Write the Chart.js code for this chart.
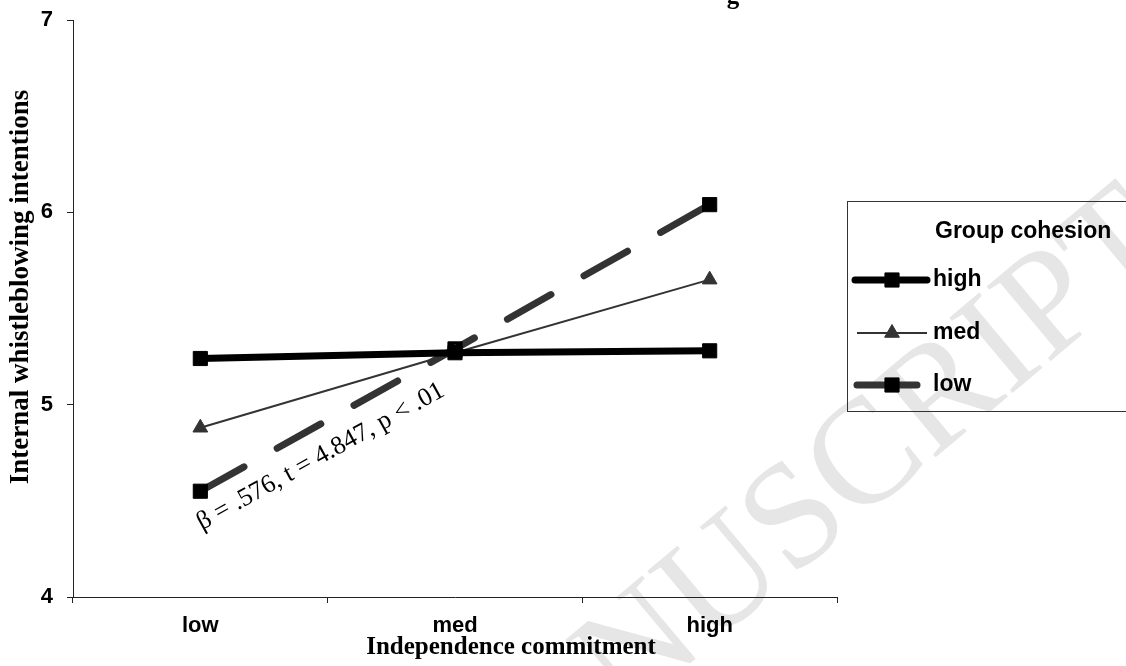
<!DOCTYPE html>
<html><head><meta charset="utf-8">
<script src="https://cdn.jsdelivr.net/npm/chart.js@4/dist/chart.umd.min.js"></script>
<style>html,body{margin:0;padding:0;background:#fff}#wrap{width:1126px;height:666px}</style>
</head><body><div id="wrap"><canvas id="c" width="1126" height="666"></canvas></div>
<script>
// ---- data ----
const categories = ['low', 'med', 'high'];
const seriesNames = ['high', 'med', 'low'];
const highValues = [5.24, 5.27, 5.28];
const medValues = [4.88, 5.27, 5.65];
const lowValues = [4.55, 5.29, 6.04];
const yTicks = [4, 5, 6, 7];
const xTitle = 'Independence commitment';
const yTitle = 'Internal whistleblowing intentions';
const legendTitle = 'Group cohesion';
const annotationText = 'β = .576, t = 4.847, p < .01';
const watermarkA = 'ACCEPTED MA';
const watermarkB = 'NUSCRIPT';

const SANS = '"Liberation Sans", Arial, sans-serif';
const SERIF = '"Liberation Serif", "Times New Roman", serif';

const datasets = [
  { label: seriesNames[0], data: highValues, borderColor: '#000', backgroundColor: '#000',
    borderWidth: 7, pointStyle: 'rect', pointRadius: 10, pointBackgroundColor: '#000', pointBorderColor: '#000',
    pointBorderWidth: 1, borderCapStyle: 'round', tension: 0, legendLine: [855, 927] },
  { label: seriesNames[1], data: medValues, borderColor: '#333', backgroundColor: '#333',
    borderWidth: 2, pointStyle: 'triangle', pointRadius: 8.5, pointBackgroundColor: '#333', pointBorderColor: '#333',
    pointBorderWidth: 1, tension: 0, legendLine: [857, 927] },
  { label: seriesNames[2], data: lowValues, borderColor: '#333', backgroundColor: '#333',
    borderWidth: 7, borderDash: [50, 38], borderCapStyle: 'round', pointStyle: 'rect', pointRadius: 10,
    pointBackgroundColor: '#000', pointBorderColor: '#000', pointBorderWidth: 1, tension: 0, legendLine: [857, 917] }
];

const extras = {
  id: 'extras',
  beforeDraw(chart) {
    const ctx = chart.ctx;
    ctx.save();
    ctx.fillStyle = '#e6e6e6';
    ctx.font = '150px ' + SERIF;
    ctx.translate(625, 718);
    ctx.rotate(-40 * Math.PI / 180);
    ctx.textBaseline = 'alphabetic';
    ctx.textAlign = 'right';
    ctx.fillText(watermarkA, 0, 0);
    ctx.textAlign = 'left';
    ctx.fillText(watermarkB, 0, 0);
    ctx.restore();
  },
  afterDraw(chart) {
    const ctx = chart.ctx;
    const xs = chart.scales.x, ys = chart.scales.y;
    ctx.save();
    // clipped title fragment at the top
    ctx.fillStyle = '#000';
    ctx.font = 'bold 25px ' + SERIF;
    ctx.textAlign = 'center';
    ctx.textBaseline = 'alphabetic';
    ctx.fillText('g', 733, 4);

    // axis titles
    ctx.font = 'bold 25px ' + SERIF;
    ctx.textAlign = 'center';
    ctx.textBaseline = 'middle';
    ctx.fillText(xTitle, 511, 648);
    ctx.save();
    ctx.translate(21, 287);
    ctx.rotate(-Math.PI / 2);
    ctx.font = 'bold 27px ' + SERIF;
    ctx.fillText(yTitle, 0, 0);
    ctx.restore();

    // annotation along the low-cohesion slope
    const ax = (xs.getPixelForValue(0) + xs.getPixelForValue(1)) / 2 - 7;
    const ay = ys.getPixelForValue(4.73);
    ctx.save();
    ctx.translate(ax, ay);
    ctx.rotate(-29 * Math.PI / 180);
    ctx.font = '26px ' + SERIF;
    ctx.textAlign = 'center';
    ctx.textBaseline = 'middle';
    ctx.fillText(annotationText, 0, 0);
    ctx.restore();

    // legend
    ctx.strokeStyle = '#333';
    ctx.lineWidth = 1;
    ctx.strokeRect(847.5, 201.5, 300, 210);
    ctx.fillStyle = '#000';
    ctx.font = 'bold 23px ' + SANS;
    ctx.textAlign = 'left';
    ctx.textBaseline = 'middle';
    ctx.fillText(legendTitle, 935, 232);
    const rows = [280, 333, 385];
    chart.data.datasets.forEach((ds, i) => {
      const y = rows[i];
      const [x0, x1] = ds.legendLine;
      ctx.save();
      ctx.strokeStyle = ds.borderColor;
      ctx.lineWidth = ds.borderWidth;
      ctx.lineCap = ds.borderCapStyle || 'butt';
      ctx.beginPath(); ctx.moveTo(x0, y); ctx.lineTo(x1, y); ctx.stroke();
      ctx.restore();
      ctx.save();
      ctx.fillStyle = ds.pointBackgroundColor;
      ctx.strokeStyle = ds.pointBorderColor;
      ctx.lineWidth = ds.pointBorderWidth;
      Chart.helpers.drawPoint(ctx, { pointStyle: ds.pointStyle, radius: ds.pointRadius, rotation: 0, borderWidth: ds.pointBorderWidth }, 892, y);
      ctx.restore();
      ctx.fillStyle = '#000';
      ctx.font = 'bold 23px ' + SANS;
      ctx.textAlign = 'left';
      ctx.textBaseline = 'middle';
      ctx.fillText(ds.label, 933, y);
    });
    ctx.restore();
  }
};

new Chart(document.getElementById('c'), {
  type: 'line',
  data: { labels: categories, datasets },
  options: {
    responsive: false,
    animation: false,
    devicePixelRatio: 1,
    layout: { padding: { top: 20, right: 289, left: 0, bottom: 0 } },
    plugins: { legend: { display: false }, tooltip: { enabled: false } },
    scales: {
      x: {
        offset: true,
        grid: { offset: true, drawOnChartArea: false, drawTicks: true, tickLength: 6, color: '#222', lineWidth: 1 },
        border: { display: true, color: '#222', width: 1 },
        ticks: { color: '#000', padding: 10, font: { family: SANS, size: 22, weight: 'bold' } },
        afterFit(s) { s.height = 69; s.paddingLeft = 0; s.paddingRight = 0; }
      },
      y: {
        min: yTicks[0], max: yTicks[yTicks.length - 1],
        afterBuildTicks(s) { s.ticks = yTicks.map(v => ({ value: v })); },
        grid: { drawOnChartArea: false, drawTicks: true, tickLength: 6, color: '#222', lineWidth: 1 },
        border: { display: true, color: '#222', width: 1 },
        ticks: { color: '#000', padding: 14, font: { family: SANS, size: 22, weight: 'bold' } },
        afterFit(s) { s.width = 73; s.paddingTop = 0; s.paddingBottom = 0; }
      }
    }
  },
  plugins: [extras]
});
</script>
</body></html>
